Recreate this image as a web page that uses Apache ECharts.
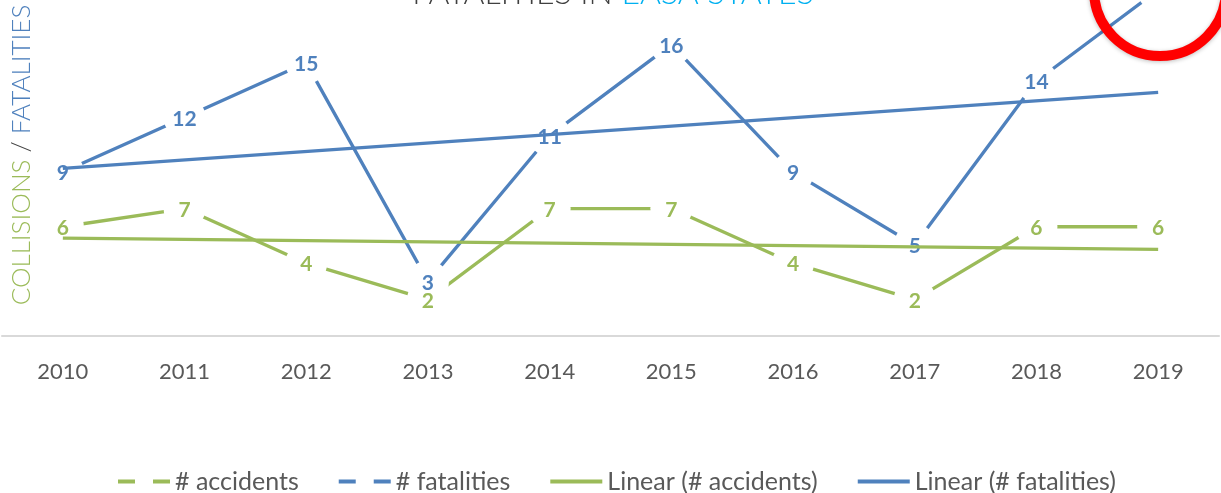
<!DOCTYPE html>
<html>
<head>
<meta charset="utf-8">
<script src="https://cdn.jsdelivr.net/npm/echarts@6/dist/echarts.min.js"></script>
<style>
  html, body { margin: 0; padding: 0; background: #ffffff; }
  #chart { width: 1221px; height: 493px; }
</style>
</head>
<body>
<div id="chart"></div>
<script>
// ---- data ----
const years = ['2010', '2011', '2012', '2013', '2014', '2015', '2016', '2017', '2018', '2019'];
const accidents = [6, 7, 4, 2, 7, 7, 4, 2, 6, 6];
const fatalities = [9, 12, 15, 3, 11, 16, 9, 5, 14, 19];
// trendline end values (2010, 2019) as drawn in the reference
const trendAccidentsEnds = [5.37, 4.76];
const trendFatalitiesEnds = [9.21, 13.38];

const GREEN = '#9BBB59';
const BLUE = '#4F81BD';
const FONT = 'Lato, "Open Sans", sans-serif';

function endsToSeries(ends) {
  return years.map((y, i) => i === 0 ? ends[0] : (i === years.length - 1 ? ends[1] : null));
}

const chart = echarts.init(document.getElementById('chart'), null, { renderer: 'canvas' });

const dataSeries = (name, values, color) => ({
  name: name,
  type: 'line',
  data: values,
  z: 2,
  clip: false,
  symbol: 'circle',
  symbolSize: 42,
  itemStyle: { color: '#ffffff', borderWidth: 0 },
  lineStyle: { color: color, width: 3.3 },
  label: {
    show: true,
    position: 'inside',
    offset: [0, 1.5],
    color: color,
    fontFamily: FONT,
    fontWeight: 'bold',
    fontSize: 21
  },
  emphasis: { disabled: true },
  animation: false
});

const trendSeries = (name, ends, color) => ({
  name: name,
  type: 'line',
  data: endsToSeries(ends),
  connectNulls: true,
  z: 3,
  clip: false,
  symbol: 'none',
  itemStyle: { color: color },
  lineStyle: { color: color, width: 3.3 },
  label: { show: false },
  emphasis: { disabled: true },
  animation: false
});

const option = {
  backgroundColor: '#ffffff',
  animation: false,
  grid: { left: 2, right: 2, top: 0, bottom: 155.7, containLabel: false },
  xAxis: {
    type: 'category',
    data: years,
    boundaryGap: true,
    axisLine: { show: true, lineStyle: { color: '#D9D9D9', width: 2 } },
    axisTick: { show: false },
    axisLabel: { color: '#595959', fontFamily: FONT, fontSize: 22, margin: 24 },
    splitLine: { show: false }
  },
  yAxis: {
    type: 'value',
    min: -0.07,
    max: 18.45,
    show: false,
    splitLine: { show: false }
  },
  legend: {
    top: 464,
    left: 113,
    itemWidth: 52,
    itemHeight: 4,
    itemGap: 40,
    textStyle: { color: '#595959', fontFamily: FONT, fontSize: 25 },
    data: [
      { name: '# accidents', icon: 'path://M0,0h17v4h-17zM35,0h17v4h-17z', itemStyle: { color: GREEN } },
      { name: '# fatalities', icon: 'path://M0,0h17v4h-17zM35,0h17v4h-17z', itemStyle: { color: BLUE } },
      { name: 'Linear (# accidents)', icon: 'path://M0,0h52v4h-52z', itemStyle: { color: GREEN } },
      { name: 'Linear (# fatalities)', icon: 'path://M0,0h52v4h-52z', itemStyle: { color: BLUE } }
    ]
  },
  graphic: [
    {
      type: 'text',
      x: 613,
      y: -6,
      style: {
        text: '{a|FATALITIES IN }{b|EASA STATES}',
        align: 'center',
        verticalAlign: 'middle',
        rich: {
          a: { fill: '#404040', fontFamily: FONT, fontWeight: 300, fontSize: 32 },
          b: { fill: '#00B0F0', fontFamily: FONT, fontWeight: 300, fontSize: 32 }
        }
      },
      z: 10
    },
    {
      type: 'text',
      x: 22,
      y: 155,
      rotation: Math.PI / 2,
      style: {
        text: '{a|COLLISIONS }{b|/}{c| FATALITIES}',
        align: 'center',
        verticalAlign: 'middle',
        rich: {
          a: { fill: GREEN, fontFamily: FONT, fontWeight: 300, fontSize: 26 },
          b: { fill: '#404040', fontFamily: FONT, fontWeight: 300, fontSize: 26 },
          c: { fill: BLUE, fontFamily: FONT, fontWeight: 300, fontSize: 26 }
        }
      },
      z: 10
    },
    {
      type: 'circle',
      shape: { cx: 1160, cy: -10, r: 66 },
      style: { fill: 'none', stroke: '#FF0000', lineWidth: 10, shadowBlur: 4, shadowColor: 'rgba(0,0,0,0.25)', shadowOffsetY: 1 },
      z: 20
    }
  ],
  series: [
    dataSeries('# accidents', accidents, GREEN),
    dataSeries('# fatalities', fatalities, BLUE),
    trendSeries('Linear (# accidents)', trendAccidentsEnds, GREEN),
    trendSeries('Linear (# fatalities)', trendFatalitiesEnds, BLUE)
  ]
};

chart.setOption(option);
</script>
</body>
</html>
